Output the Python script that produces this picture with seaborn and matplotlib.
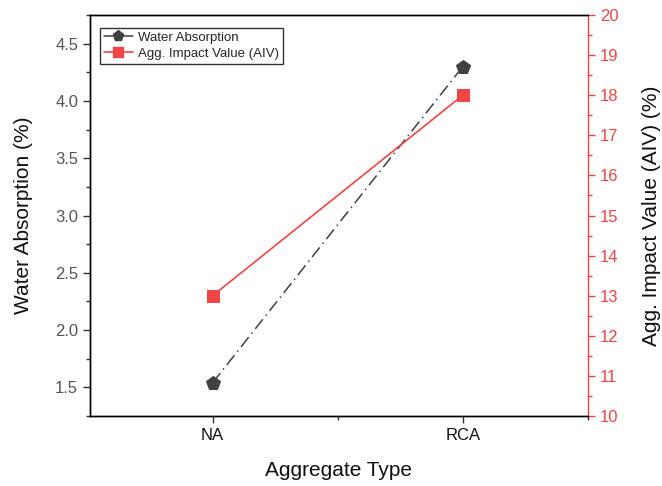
import matplotlib
matplotlib.use("Agg")
import matplotlib.pyplot as plt
import seaborn as sns
import pandas as pd
from matplotlib.ticker import MultipleLocator
from matplotlib.lines import Line2D

categories = ["NA", "RCA"]
water_absorption = [1.54, 4.30]
aiv = [13.0, 18.0]

sns.set_theme(style="white")
plt.rcParams['font.family'] = ['Liberation Sans', 'DejaVu Sans']

df = pd.DataFrame({"pos": [0, 1], "cat": categories, "wa": water_absorption, "aiv": aiv})

fig = plt.figure(figsize=(6.62, 4.86), dpi=100)
ax = fig.add_axes([0.136, 0.144, 0.752, 0.825])
ax2 = ax.twinx()

gray = "#404040"
red = "#F04545"

sns.lineplot(data=df, x="pos", y="wa", ax=ax, color=gray, linestyle=(0, (8, 3, 1, 3)),
             linewidth=1.1, marker="p", markersize=10, markeredgecolor=gray, legend=False)
sns.lineplot(data=df, x="pos", y="aiv", ax=ax2, color=red, linestyle="-",
             linewidth=1.2, marker="s", markersize=8, markeredgecolor=red, legend=False)

ax.set_xlim(-0.49, 1.5)
ax.set_ylim(1.25, 4.75)
ax2.set_ylim(10, 20)

ax.set_xticks([0, 1])
ax.set_xticklabels(categories)
ax.xaxis.set_minor_locator(MultipleLocator(0.5))
ax.yaxis.set_major_locator(MultipleLocator(0.5))
ax.yaxis.set_minor_locator(MultipleLocator(0.25))
ax2.yaxis.set_major_locator(MultipleLocator(1))
ax2.yaxis.set_minor_locator(MultipleLocator(0.5))

ax.set_xlabel("Aggregate Type", fontsize=15, color="#111111", labelpad=13)
ax.set_ylabel("Water Absorption (%)", fontsize=15, color="#111111", labelpad=16)
ax2.set_ylabel("Agg. Impact Value (AIV) (%)", fontsize=15, color="#111111", labelpad=17)

for a in (ax, ax2):
    for s in a.spines.values():
        s.set_color("black")
        s.set_linewidth(1.0)
ax2.spines["right"].set_color(red)
ax.spines["right"].set_visible(False)

ax.tick_params(axis="both", which="major", direction="out", length=5, width=1, color="#333333",
               labelsize=12, labelcolor="#555555", bottom=True, left=True)
ax.tick_params(axis="x", which="major", labelcolor="#111111")
ax.tick_params(axis="both", which="minor", direction="out", length=3, width=1, color="#333333",
               bottom=True, left=True)
ax2.tick_params(axis="y", which="major", direction="out", length=5, width=1, color=red,
                labelsize=12, labelcolor=red, right=True)
ax2.tick_params(axis="y", which="minor", direction="out", length=3, width=1, color=red, right=True)

handles = [
    Line2D([], [], color=gray, linestyle="-", linewidth=1.1, marker="p", markersize=8),
    Line2D([], [], color=red, linestyle="-", linewidth=1.2, marker="s", markersize=7),
]
leg = ax.legend(handles, ["Water Absorption", "Agg. Impact Value (AIV)"], loc="upper left",
                bbox_to_anchor=(0.012, 0.978), fontsize=9.5, frameon=True, fancybox=False,
                edgecolor="black", handlelength=2.2, borderpad=0.3, labelspacing=0.25,
                handletextpad=0.4, borderaxespad=0.3)
leg.get_frame().set_linewidth(1.0)

fig.savefig("out.png", dpi=100)
